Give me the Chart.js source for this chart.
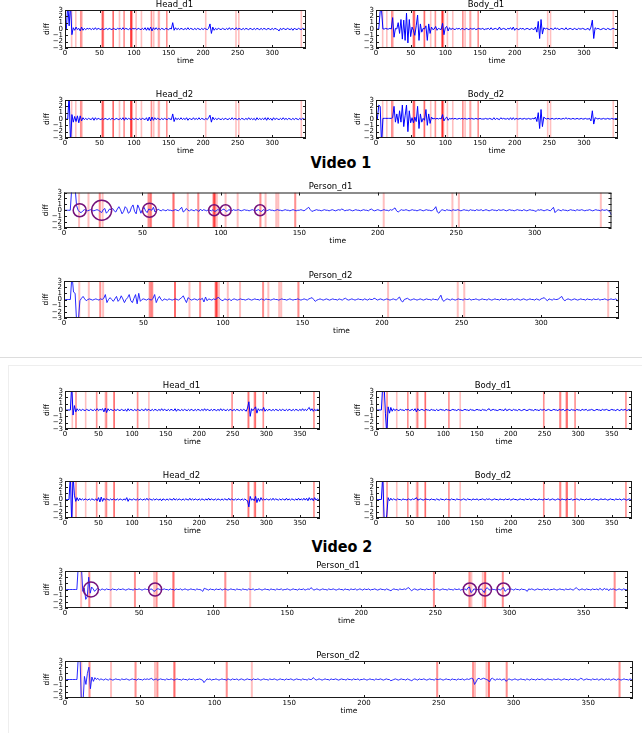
<!DOCTYPE html>
<html><head><meta charset="utf-8">
<script src="https://cdn.jsdelivr.net/npm/chart.js@4.4.1/dist/chart.umd.min.js"></script>
<style>
html,body{margin:0;padding:0;background:#fff;}
body{width:642px;height:733px;position:relative;overflow:hidden;}
canvas{position:absolute;}
.vt{position:absolute;font-family:'DejaVu Sans Condensed','DejaVu Sans',sans-serif;font-stretch:condensed;font-weight:bold;font-size:16px;color:#000;transform:translate(-50%,-50%);white-space:nowrap;line-height:1;}
.sep{position:absolute;left:0;top:357px;width:642px;height:1px;background:#ddd;}
.card{position:absolute;left:8px;top:365px;width:700px;height:400px;border:1px solid #eee;}
</style></head><body>
<div class="sep"></div>
<div class="card"></div>
<div class="vt" style="left:341px;top:163px">Video 1</div>
<div class="vt" style="left:342px;top:547px">Video 2</div>
<script>
// ---------- DATA (diff values in tenths) ----------
const V1_MAX = 349, V2_MAX = 380;
const Y_TICKS = [-3,-2,-1,0,1,2,3];
const V1_X_TICKS = [0,50,100,150,200,250,300];
const V2_X_TICKS = [0,50,100,150,200,250,300,350];

// Video 1, sampled every 2 time units
const V1_HEAD_D1 = [
0,0,40,5,40,-9,2,-2,3,-1, 1,-3,3,-2,1,-1,1,0,1,-1, 1,-1,2,-1,1,0,-1,1,-1,0, 1,-1,1,0,-1,1,0,-1,1,0,
1,-1,2,-1,1,0,-1,1,-1,1, 0,1,-1,1,0,-1,1,-1,2,-2, 2,-2,3,-3,2,-1,2,-1,1,-1, 1,0,-1,1,0,-1,1,0,10,-2,
2,-1,1,-1,1,0,-1,1,-1,2, -1,1,0,-1,1,-1,1,0,-1,1, -1,1,0,-1,1,8,-7,3,-2,1, -1,1,0,-1,1,0,-1,1,-1,2,
-1,1,0,-1,2,-1,1,0,-1,1, -1,1,0,-1,1,0,-1,1,-1,1, 0,-1,1,-1,1,0,-1,1,0,-1, 1,-1,1,0,-1,-3,1,-1,1,0,
-1,1,0,-1,1,-2,1,0,-1,1, 0,-1,1,0,-1];
const V1_BODY_D1 = [
0,0,0,28,30,0,0,1,0,0, 1,0,18,-13,1,0,10,-7,15,-16, 14,-18,25,-22,15,-12,3,-2,-10,5, 22,-18,8,-5,1,0,5,-18,8,-7,
3,-1,0,4,-2,1,0,-1,9,-9, 2,4,-3,2,-1,1,0,-1,1,0, 1,-1,1,0,-1,1,0,-1,1,0, 0,1,-1,0,1,0,0,1,-1,0,
0,1,-1,2,-1,0,1,0,-1,3, -1,0,1,0,-1,1,0,2,-1,3, -2,1,0,-1,1,0,1,-1,0,1, 0,-1,1,0,-1,3,-5,12,-15,15,
-8,2,0,1,0,-1,1,0,-1,2, 0,1,-1,0,1,0,-1,2,-1,0, 1,0,-1,1,0,-1,1,0,0,1, 0,-1,0,1,-2,3,14,-15,2,0,
1,0,-1,0,1,0,-1,1,0,-1, 0,1,0,-1,0];
const V1_HEAD_D2 = [
0,0,0,40,-40,7,-5,4,-4,5, -6,5,-3,2,-1,1,-1,1,0,-1, 2,-2,2,-1,1,0,-1,1,-1,1, 0,-1,1,-1,1,0,-1,1,0,-1,
1,-1,2,-2,2,-1,1,0,-1,1, -1,1,0,-1,1,-1,1,0,-1,2, -3,3,-3,3,-2,2,-1,1,0,-1, 1,-1,1,0,-1,1,0,-1,8,-4,
2,-1,1,-1,2,-1,1,-1,2,-2, 1,0,-1,2,-1,1,-1,2,-1,1, 0,-1,1,-1,2,6,-5,3,-1,1, -1,1,0,-1,1,-1,1,0,-1,1,
-1,2,-1,1,0,-1,1,-1,1,0, -1,1,-1,2,-1,1,-1,1,-2,2, -1,1,-1,1,-1,2,-2,2,-1,1, -2,2,-1,1,0,-1,1,-1,2,-1,
1,-1,1,0,-1,1,-1,1,0,-1, 1,-1,1,0,-1];
const V1_BODY_D2 = [
0,0,22,20,-40,1,1,1,1,1, 1,1,2,20,-5,8,-7,13,-5,22, -12,5,22,-20,13,-6,2,-6,3,-4, 20,-15,8,-5,1,-2,15,-10,8,-7,
3,0,1,0,1,0,1,0,7,-3, 1,3,-2,1,0,1,0,1,0,0, 1,0,1,0,1,0,0,1,0,1, 0,0,1,0,0,1,0,0,0,1,
0,0,1,0,-1,2,-1,1,0,-1, 2,0,1,0,0,1,-1,2,-1,2, -1,1,0,0,1,0,0,1,0,0, 1,0,0,1,0,3,-4,10,-15,15,
-12,3,1,0,1,0,0,1,0,0, 1,0,1,0,0,1,0,2,0,1, 0,0,1,0,0,1,0,0,1,0, 0,1,0,0,1,-3,13,-8,2,1,
0,1,0,0,1,0,0,1,0,0, 1,0,0,1,0];

// Video 1, sampled every time unit
const V1_PERSON_D1 = [
0,0,0,0,0,40,40,40,8,0, -3,-4,-1,1,0,-1,0,1,0,-1, 0,1,0,-2,-4,1,3,-5,-2,2, 1,3,-1,-3,2,6,1,-6,-2,6,
3,-5,-3,5,9,-2,-6,9,3,-5, 1,5,-1,-4,2,1,0,5,-3,-1, 2,0,-1,1,0,-1,1,0,0,-1, 0,1,0,-1,2,5,-3,-1,3,0,
-1,1,0,-1,1,0,-2,2,-1,1, 0,-1,1,0,-1,1,-2,-1,1,0, -1,1,2,-1,-2,1,0,-1,1,0, 0,1,0,-1,0,1,0,0,-1,0,
1,0,-1,0,1,-1,-2,1,0,-1, 0,1,0,0,-1,0,1,0,0,-1, 0,1,0,0,-1,0,1,0,-1,0, 0,1,0,-1,1,3,5,1,-2,-1,
0,1,0,0,-1,0,1,0,0,-1, 0,1,0,-1,0,1,0,2,1,-1, 0,0,1,0,-1,0,1,0,0,-1, 0,1,0,0,-1,1,2,0,-1,0,
1,0,-1,0,1,0,0,-1,1,0, 2,4,-1,-3,-1,1,0,0,1,0, -1,0,1,0,0,-1,0,1,0,-1, 0,1,0,0,-1,0,2,6,-3,-5,
-1,1,0,-1,1,0,0,-1,1,0, 0,1,0,-1,0,1,0,0,-1,1, 0,0,-1,1,0,0,1,-1,0,1, 0,-1,0,1,0,0,-1,1,0,0,
1,0,-1,0,1,0,0,-1,0,1, 0,0,-1,1,0,-1,0,1,0,0, -1,-2,1,0,1,0,-1,0,1,0, -1,2,5,-4,-1,1,0,-1,1,0,
0,-1,0,1,0,0,-1,1,0,0, 1,0,-1,0,0,1,0,-1,0,1, 0,0,-1,1,0,0,1,-1,-3,-8];
const V1_PERSON_D2 = [
0,0,0,0,0,40,12,10,-40,-35, -2,2,5,1,-2,0,1,0,-1,0, 1,0,-1,1,0,2,8,-5,0,3, 0,-3,1,5,-3,0,6,1,-5,0,
3,8,-2,-5,2,8,-7,10,-3,0, 1,0,-1,1,0,-1,2,8,-5,1, 5,0,-2,1,0,-1,1,0,-1,0, 1,0,-1,1,3,6,0,-5,3,1,
-1,0,1,0,-1,1,0,2,-4,4, -2,1,0,-1,1,0,1,4,1,-1, -2,1,0,-1,1,-2,0,1,0,-1, 0,1,0,0,-1,0,1,0,-1,0,
1,0,0,-1,1,0,-1,1,0,0, -1,0,1,0,0,-1,0,1,0,0, -1,0,1,0,-1,0,0,1,0,-1, 0,1,0,-1,1,2,3,0,-3,-1,
0,1,0,-1,0,1,0,-1,0,1, 0,0,-1,1,0,-1,1,2,0,-1, 0,1,0,-1,0,1,0,0,-1,1, 0,-1,1,0,0,2,1,-1,0,1,
0,-1,0,1,0,-1,0,1,0,-1, 2,4,-2,-4,0,1,2,0,-1,0, 1,0,-1,0,1,0,-1,0,1,0, 0,-1,1,0,0,-1,3,7,-1,-3,
0,1,0,-1,1,0,-1,0,1,0, 0,-1,1,0,0,1,-1,0,0,1, 0,-1,0,1,0,0,-1,1,0,-1, 0,1,0,0,-1,1,0,0,1,-1,
0,0,1,-1,0,1,0,-1,0,1, 0,-1,0,1,0,0,-1,1,0,-1, 1,2,3,0,-2,1,0,-1,1,0, 0,1,3,5,0,-2,0,1,0,-1,
0,1,0,-1,0,1,0,0,-1,1, 0,0,-1,1,0,0,1,-1,0,0, 1,0,-1,0,1,0,0,1,-1,-5];

// Video 2, sampled every 2 time units
const V2_HEAD_D1 = [
0,0,0,0,0,40,-8,7,-3,2, -1,1,-1,1,0,-1,1,0,-1,1, 0,-1,1,-1,2,-1,1,0,2,-3, 3,-4,2,-1,1,0,-1,1,-1,1,
0,-1,1,0,-1,1,-2,2,-1,1, 0,-1,1,-1,1,0,-1,1,0,-1, 2,-1,1,0,-1,1,-1,1,0,-1, 1,-1,2,-1,1,0,-1,1,-1,1,
0,-1,2,-2,1,0,-1,1,-1,1, 0,-1,1,-1,1,0,-1,1,-1,1, 0,-1,1,-1,2,-1,1,0,-1,1, -1,1,0,-1,1,-1,2,-1,1,0,
-1,1,-1,1,0,-1,1,-1,1,0, -1,1,-1,1,0,-2,3,13,-10,2, -1,2,5,-5,2,-1,1,-1,4,-2, 1,-1,1,0,-1,1,-1,1,0,-1,
1,-1,1,0,-1,1,-1,1,0,-1, 1,-1,1,0,-1,1,-1,2,-1,1, -1,2,4,-1,2,-2,1,-1,1,0, 0];
const V2_BODY_D1 = [
0,0,0,0,0,40,40,-5,-40,5, -5,4,-2,2,-1,1,0,-1,1,0, 0,-1,1,0,1,-1,0,1,-1,2, -3,2,-1,0,1,0,-1,1,0,0,
-1,1,0,0,-1,1,-1,0,1,0, 0,-1,1,0,0,-1,0,1,0,0, -1,1,0,0,-1,0,1,0,0,-1, 1,0,0,-1,0,1,0,0,-1,1,
0,0,-1,1,2,-1,0,1,0,0, -1,0,1,0,0,-1,2,-1,0,1, 0,-1,1,0,0,-1,1,0,-1,0, 1,0,-1,0,1,0,0,-1,1,0,
0,-1,1,0,0,1,-1,0,1,0, -1,0,1,0,0,-1,1,0,0,1, -1,0,1,0,-1,1,0,0,-1,1, 0,0,-1,1,0,0,1,-1,0,0,
1,0,-1,0,1,0,0,-1,1,0, 0,1,0,-1,0,1,0,0,-1,1, 0,-1,1,0,0,1,-1,0,1,0, 0];
const V2_HEAD_D2 = [
0,0,0,0,40,-40,40,7,-3,3, -2,2,-1,1,-1,1,0,-1,1,-1, 1,0,-1,1,-2,3,-4,4,-3,2, -1,1,0,-1,1,-1,1,0,-1,1,
-1,1,0,-1,1,-1,3,-3,1,0, -1,1,0,-1,1,-1,1,0,-1,1, -1,2,-1,1,0,-1,1,-1,1,0, -1,1,-2,1,0,-1,1,-1,1,0,
-1,2,-1,1,-1,1,0,-1,1,-1, 1,0,-1,2,-1,1,-1,1,0,-1, 1,-1,1,0,-1,1,-1,2,-1,1, 0,-1,1,-1,1,0,-1,1,-1,1,
0,-1,2,-1,1,0,-1,1,-1,1, 0,-1,1,-1,1,-1,-2,-12,5,-1, 1,-2,5,-5,2,-3,3,-1,1,-1, 1,0,-1,1,-1,2,-1,1,0,-1,
1,-1,1,0,-1,2,-1,1,-1,1, 0,-1,1,-1,2,-1,1,-1,2,-1, 2,-2,3,-1,2,-2,3,-1,1,0, 0];
const V2_BODY_D2 = [
0,0,0,0,0,40,-30,-40,-25,3, -2,2,-1,1,0,-1,1,0,0,-1, 1,0,0,-1,1,0,-1,1,0,1, 3,-1,0,1,0,-1,0,1,0,0,
-1,1,0,0,-1,1,0,-1,1,0, 0,-1,1,0,0,-1,1,0,0,-1, 1,0,0,-1,0,1,0,-1,1,0, 0,-1,1,0,0,1,-1,0,0,1,
0,-1,1,0,1,0,-1,0,1,0, 0,-1,1,0,0,-1,1,0,0,1, -1,0,1,0,0,-1,0,1,0,0, -1,1,0,0,1,-1,0,1,0,0,
-1,1,0,0,-1,1,0,0,1,-1, 0,1,0,-1,0,1,0,-1,1,0, 0,-1,1,0,0,1,-1,0,0,1, 0,-1,1,0,0,-1,1,0,0,1,
-1,0,1,0,0,-1,0,1,0,0, 1,0,-1,0,1,0,0,-1,1,0, 0,1,-1,0,1,0,-1,0,1,0, 0];

// Video 2, sampled every time unit
const V2_PERSON_D1 = [
0,0,0,0,0,0,0,0,0,40, 40,40,-3,2,-16,-12,20,-6,4,1, -3,0,2,0,-1,1,0,-1,1,0, 0,-1,1,0,0,-1,1,0,0,1,
0,-1,0,1,0,0,-1,1,0,0, 1,0,-1,0,1,0,0,-1,1,0, -3,-2,1,1,0,-1,0,1,0,0, -1,1,0,0,-1,1,0,0,1,-1,
0,1,0,-1,0,1,0,0,-1,1, 0,0,-1,-3,2,1,0,-1,1,0, 0,-1,1,0,0,1,-1,0,1,0, -1,0,1,0,0,-1,1,0,0,-1,
1,0,0,-1,1,0,0,1,-1,0, 0,1,0,-1,0,1,0,0,-1,1, 0,0,-1,1,0,0,1,-1,0,0, 1,0,-1,0,1,0,0,-1,1,0,
0,1,-1,0,1,0,3,1,-1,0, 1,0,-1,0,1,0,0,-1,1,0, 0,1,0,-1,0,1,0,0,-1,1, 0,0,-1,1,0,0,1,-1,0,1,
0,-1,1,0,0,1,-1,0,0,1, 0,-1,0,1,0,0,-1,1,0,-1, -2,0,1,0,0,-1,1,0,0,1, 0,2,3,0,-2,0,1,0,-1,0,
1,0,0,-1,1,0,0,1,-1,0, 0,1,0,-1,0,1,0,0,-1,1, 0,0,-1,1,0,0,1,-1,0,0, 1,-1,3,4,-5,-3,1,0,-1,1,
0,1,-2,-5,1,3,0,-1,1,0, 0,-1,1,0,-1,2,3,-3,-1,1, 0,1,0,-1,1,0,0,-1,1,0, 0,-1,-3,1,0,1,0,-1,0,1,
0,0,-1,1,0,0,1,-1,0,0, 1,0,-1,0,1,0,0,-1,1,0, 0,1,0,-1,1,3,1,-1,0,1, 0,-1,1,0,0,-1,1,0,0,1,
-1,2,0,-1,2,0,1,-2,1,0, 1,0,-1,0,1,0,-1,1,0,0, 0];
const V2_PERSON_D2 = [
0,0,0,0,0,0,0,0,0,40, 40,-40,-40,5,-8,10,20,-15,4,-3, 3,0,2,-1,1,0,-1,1,0,-1, 1,0,-1,0,1,0,0,-1,1,0,
0,1,0,-1,0,1,0,0,-1,1, 0,0,-1,1,0,1,0,1,2,-1, 0,1,-1,0,1,0,0,-1,1,0, 0,1,0,-1,0,1,0,0,-1,1,
0,0,-1,1,0,0,1,-1,0,0, 1,0,-1,-5,-2,1,0,1,-1,0, 0,1,0,-1,0,1,0,0,-1,1, 0,-1,1,0,0,1,-1,0,1,0,
-1,0,1,0,0,-1,1,0,0,1, 0,-1,0,1,0,0,-1,1,0,0, 1,0,-1,0,1,0,0,-1,1,0, 0,1,0,-1,0,1,0,0,-1,1,
0,0,-1,1,0,0,3,1,-1,0, 1,0,-1,0,1,0,0,-1,1,0, 0,1,0,-1,0,1,0,0,-1,1, 0,0,-1,1,0,0,1,-1,0,0,
1,0,-1,0,1,0,0,-1,1,0, 0,1,0,-1,0,1,0,0,-2,-1, 0,1,0,-1,0,1,0,0,-1,1, 0,-1,-2,0,1,0,-1,1,0,0,
1,0,-1,0,1,0,0,-1,1,0, 0,1,0,-1,0,1,0,0,-1,1, 0,0,-1,1,0,0,1,-1,0,1, 0,1,2,1,-8,-4,1,2,0,1,
2,1,0,-1,-4,1,2,0,-1,1, 0,1,-1,0,1,-3,-1,1,0,-1, 0,1,0,-1,0,1,0,0,-1,1, 0,-1,1,0,0,-1,1,0,0,1,
0,-1,0,1,0,0,-1,1,0,0, 1,0,-1,0,1,0,0,-1,1,0, 0,1,0,-1,0,2,1,-1,0,1, 0,0,-1,1,0,0,1,-1,0,1,
0,-1,1,0,1,-1,0,1,0,-1, 1,0,-1,0,1,0,0,-1,1,0, 0];

// Event markers (time) and how many markers overlap there
const V1_EVENT_TIMES  = [9.6,15.6,22.8,24.6,53.9,54.8,55.5,69.8,78.9,85.6,95.4,96.1,97.4,103,110.7,125.2,128.5,135.3,136.6,147.4,203.8,247.6,251.7,342.2];
const V1_EVENT_COUNTS = [1,1,2,1,2,1,2,3,1,2,3,3,1,1,1,2,1,1,1,2,1,1,1,1];
const V2_EVENT_TIMES  = [10.9,16.4,30.8,47.2,60.2,61.8,73.2,108.2,125,249,273,274.3,282,283.6,295.5,371];
const V2_EVENT_COUNTS = [1,2,1,2,1,2,3,2,1,2,2,1,1,3,2,2];

// Circled moments on Person_d1
const V1_CIRCLE_TIMES = [10,24,54.5,95.7,103,125];
const V2_CIRCLE_TIMES = [17.5,60.8,273.2,283.5,296];

// ---------- STYLE / LAYOUT ----------
const V1_CIRCLE_RADII = [6.5,10,7,5.5,5.5,5.5];
const V2_CIRCLE_RADII = [7.5,6.5,6.5,6.5,6.5];
const FONT = "'DejaVu Sans', sans-serif";
const YW = 22, TB = 10, XH = 18, PR = 4;

const framePlugin = {
  id: 'frame',
  beforeDatasetsDraw(chart, args, o) {
    const {ctx, chartArea: a} = chart; const x = chart.scales.x;
    ctx.save();
    ctx.beginPath(); ctx.rect(a.left, a.top, a.right - a.left, a.bottom - a.top); ctx.clip();
    ctx.fillStyle = 'rgba(255,0,0,0.25)';
    o.times.forEach((t, i) => {
      const px = x.getPixelForValue(t);
      for (let k = 0; k < o.counts[i]; k++) ctx.fillRect(px - o.w / 2, a.top, o.w, a.bottom - a.top);
    });
    ctx.restore();
  },
  afterDatasetsDraw(chart) {
    const {ctx, chartArea: a} = chart; const {x, y} = chart.scales;
    ctx.save(); ctx.strokeStyle = '#1a1a1a'; ctx.lineWidth = 1;
    ctx.beginPath();
    x.ticks.forEach(t => { const p = Math.round(x.getPixelForValue(t.value)) + 0.5;
      ctx.moveTo(p, a.bottom); ctx.lineTo(p, a.bottom - 3); ctx.moveTo(p, a.top); ctx.lineTo(p, a.top + 3); });
    y.ticks.forEach(t => { const p = Math.round(y.getPixelForValue(t.value)) + 0.5;
      ctx.moveTo(a.left, p); ctx.lineTo(a.left + 3, p); ctx.moveTo(a.right, p); ctx.lineTo(a.right - 3, p); });
    ctx.stroke();
    ctx.strokeRect(a.left + 0.5, a.top + 0.5, a.right - a.left - 1, a.bottom - a.top - 1);
    ctx.restore();
  }
};

function makeChart(c) {
  const canvas = document.createElement('canvas');
  const w = c.r - c.l + YW + PR, h = c.b - c.t + TB + XH;
  canvas.width = w; canvas.height = h;
  canvas.style.left = (c.l - YW) + 'px'; canvas.style.top = (c.t - TB) + 'px';
  canvas.style.width = w + 'px'; canvas.style.height = h + 'px';
  document.body.appendChild(canvas);
  const datasets = [{
    type: 'line', data: c.values.map((v, i) => ({x: i * c.step, y: v / 10})),
    borderColor: c.person ? 'rgba(20,20,255,0.9)' : '#0000ff', borderWidth: 1,
    pointRadius: 0, tension: 0, clip: 0, order: 2
  }];
  if (c.circles) datasets.push({
    type: 'scatter', data: c.circles.map(t => ({x: t, y: 0})),
    pointRadius: c.radii, pointBorderColor: '#74107a', pointBackgroundColor: 'rgba(0,0,0,0)',
    pointBorderWidth: 1.5, showLine: false, clip: false, order: 1
  });
  new Chart(canvas, {
    type: 'line',
    data: {datasets},
    options: {
      responsive: false, animation: false, devicePixelRatio: 1, events: [], parsing: false,
      layout: {padding: {left: 0, right: PR, top: 0, bottom: 0}},
      plugins: {
        legend: {display: false}, tooltip: {enabled: false},
        title: {display: true, text: c.title, color: '#000',
          font: {family: FONT, size: 8.5, weight: 'normal', lineHeight: '9px'}, padding: {top: 0, bottom: 1}},
        frame: {times: c.evT, counts: c.evC, w: c.person ? 2 : 1.6}
      },
      scales: {
        x: {type: 'linear', min: 0, max: c.max, grid: {display: false, drawTicks: false}, border: {display: false},
          afterBuildTicks(s) { s.ticks = c.xticks.map(v => ({value: v})); },
          ticks: {autoSkip: false, maxRotation: 0, color: '#000',
            font: {family: FONT, size: 7}, padding: 1},
          title: {display: true, text: 'time', color: '#000', font: {family: FONT, size: 7.5}, padding: 0},
          afterFit(s) { s.height = XH; }},
        y: {type: 'linear', min: -3, max: 3, grid: {display: false, drawTicks: false}, border: {display: false},
          afterBuildTicks(s) { s.ticks = Y_TICKS.map(v => ({value: v})); },
          ticks: {autoSkip: false, color: '#000', font: {family: FONT, size: 7}, padding: 2,
            callback: v => (v < 0 ? '\u2212' + Math.abs(v) : String(v))},
          title: {display: true, text: 'diff', color: '#000', font: {family: FONT, size: 7.5}, padding: 0},
          afterFit(s) { s.width = YW; }}
      }
    },
    plugins: [framePlugin]
  });
}

const CHARTS = [
  {title: 'Head_d1',   values: V1_HEAD_D1,   step: 2, max: V1_MAX, xticks: V1_X_TICKS, evT: V1_EVENT_TIMES, evC: V1_EVENT_COUNTS, l: 65,  r: 306, t: 10,  b: 48},
  {title: 'Body_d1',   values: V1_BODY_D1,   step: 2, max: V1_MAX, xticks: V1_X_TICKS, evT: V1_EVENT_TIMES, evC: V1_EVENT_COUNTS, l: 376, r: 618, t: 10,  b: 48},
  {title: 'Head_d2',   values: V1_HEAD_D2,   step: 2, max: V1_MAX, xticks: V1_X_TICKS, evT: V1_EVENT_TIMES, evC: V1_EVENT_COUNTS, l: 65,  r: 306, t: 100, b: 138},
  {title: 'Body_d2',   values: V1_BODY_D2,   step: 2, max: V1_MAX, xticks: V1_X_TICKS, evT: V1_EVENT_TIMES, evC: V1_EVENT_COUNTS, l: 376, r: 618, t: 100, b: 138},
  {title: 'Person_d1', values: V1_PERSON_D1, step: 1, max: V1_MAX, xticks: V1_X_TICKS, evT: V1_EVENT_TIMES, evC: V1_EVENT_COUNTS, l: 64,  r: 619, t: 191, b: 228, person: true, circles: V1_CIRCLE_TIMES, radii: V1_CIRCLE_RADII},
  {title: 'Person_d2', values: V1_PERSON_D2, step: 1, max: V1_MAX, xticks: V1_X_TICKS, evT: V1_EVENT_TIMES, evC: V1_EVENT_COUNTS, l: 64,  r: 619, t: 281, b: 318, person: true},
  {title: 'Head_d1',   values: V2_HEAD_D1,   step: 2, max: V2_MAX, xticks: V2_X_TICKS, evT: V2_EVENT_TIMES, evC: V2_EVENT_COUNTS, l: 65,  r: 320, t: 391, b: 429},
  {title: 'Body_d1',   values: V2_BODY_D1,   step: 2, max: V2_MAX, xticks: V2_X_TICKS, evT: V2_EVENT_TIMES, evC: V2_EVENT_COUNTS, l: 376, r: 632, t: 391, b: 429},
  {title: 'Head_d2',   values: V2_HEAD_D2,   step: 2, max: V2_MAX, xticks: V2_X_TICKS, evT: V2_EVENT_TIMES, evC: V2_EVENT_COUNTS, l: 65,  r: 320, t: 481, b: 518},
  {title: 'Body_d2',   values: V2_BODY_D2,   step: 2, max: V2_MAX, xticks: V2_X_TICKS, evT: V2_EVENT_TIMES, evC: V2_EVENT_COUNTS, l: 376, r: 632, t: 481, b: 518},
  {title: 'Person_d1', values: V2_PERSON_D1, step: 1, max: V2_MAX, xticks: V2_X_TICKS, evT: V2_EVENT_TIMES, evC: V2_EVENT_COUNTS, l: 65,  r: 633, t: 571, b: 608, person: true, circles: V2_CIRCLE_TIMES, radii: V2_CIRCLE_RADII},
  {title: 'Person_d2', values: V2_PERSON_D2, step: 1, max: V2_MAX, xticks: V2_X_TICKS, evT: V2_EVENT_TIMES, evC: V2_EVENT_COUNTS, l: 65,  r: 633, t: 661, b: 698, person: true}
];
CHARTS.forEach(makeChart);
</script>
</body></html>
